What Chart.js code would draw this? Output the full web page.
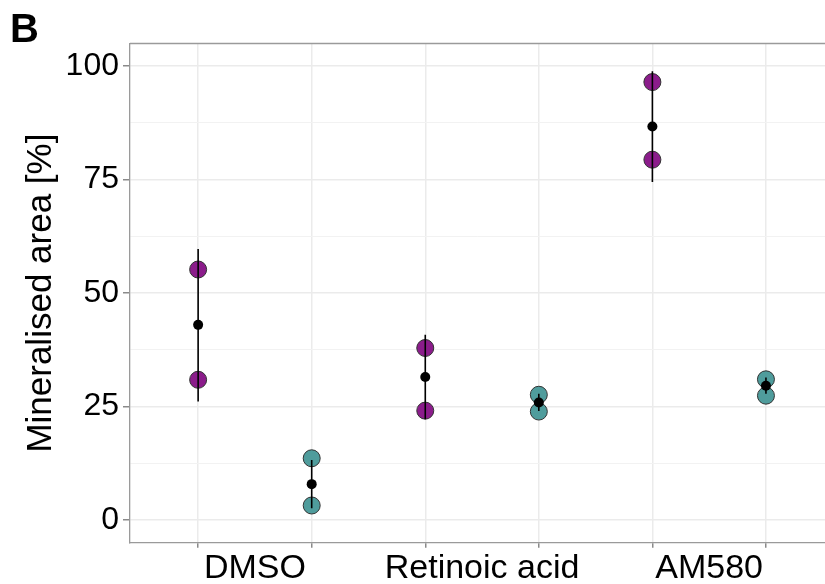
<!DOCTYPE html>
<html><head><meta charset="utf-8">
<script src="https://cdn.jsdelivr.net/npm/chart.js@4/dist/chart.umd.min.js"></script>
<style>html,body{margin:0;padding:0;background:#fff;overflow:hidden}canvas{display:block}</style>
</head><body><canvas id="c" width="825" height="584"></canvas>
<script>
// ---- data ----
const treatments = ['DMSO', 'Retinoic acid', 'AM580'];
const purplePos = [1, 3, 5];
const tealPos = [2, 4, 6];
const labelPos = [1.5, 3.5, 5.5];
const purpleRep1 = [55.2, 37.9, 96.5];
const purpleRep2 = [30.9, 24.1, 79.4];
const purpleMean = [43.0, 31.5, 86.7];
const purpleLow = [26.1, 22.2, 74.5];
const purpleHigh = [59.7, 40.8, 98.9];
const tealRep1 = [13.6, 27.6, 31.0];
const tealRep2 = [3.2, 23.9, 27.4];
const tealMean = [7.9, 25.9, 29.6];
const tealLow = [2.6, 24.0, 27.8];
const tealHigh = [13.2, 27.8, 31.4];
const yMajorTicks = [0, 25, 50, 75, 100];
const yMinorTicks = [12.5, 37.5, 62.5, 87.5];
const yTitle = 'Mineralised area [%]';
const panelLabel = 'B';

// ---- build ----
const FONT = "'Liberation Sans', Arial, sans-serif";
const PURPLE = '#8B1C8B';
const TEAL = '#4F9C9C';
function pts(pos, vals) { return pos.map((p, i) => ({ x: p, y: vals[i] })); }
function errPts(pos, lo, hi) {
  const out = [];
  pos.forEach((p, i) => { out.push({ x: p, y: lo[i] }, { x: p, y: hi[i] }, { x: p, y: null }); });
  return out;
}
const xTickVals = [];
purplePos.forEach((p, i) => { xTickVals.push(p, labelPos[i], tealPos[i]); });
const yTickVals = yMajorTicks.concat(yMinorTicks).sort((a, b) => a - b);
const isLabelPos = v => labelPos.indexOf(v) >= 0;
const isMajorY = v => yMajorTicks.indexOf(v) >= 0;

const extras = {
  id: 'extras',
  beforeDatasetsDraw(chart) {
    const { ctx, chartArea: a } = chart;
    ctx.save();
    ctx.strokeStyle = '#9a9a9a';
    ctx.lineWidth = 1.3;
    ctx.beginPath();
    ctx.moveTo(a.left, a.top); ctx.lineTo(a.right + 2, a.top);
    ctx.stroke();
    ctx.restore();
  },
  afterDraw(chart) {
    const ctx = chart.ctx;
    ctx.save();
    ctx.fillStyle = '#000';
    ctx.font = "bold 40px " + FONT;
    ctx.textBaseline = 'alphabetic';
    ctx.fillText(panelLabel, 10, 42);
    ctx.restore();
  }
};

const pointCommon = { showLine: false, borderColor: '#333', borderWidth: 1, pointRadius: 8.5, order: 3 };
new Chart(document.getElementById('c'), {
  type: 'scatter',
  data: {
    datasets: [
      Object.assign({ data: pts(purplePos, purpleRep1), backgroundColor: PURPLE }, pointCommon),
      Object.assign({ data: pts(purplePos, purpleRep2), backgroundColor: PURPLE }, pointCommon),
      Object.assign({ data: pts(tealPos, tealRep1), backgroundColor: TEAL }, pointCommon),
      Object.assign({ data: pts(tealPos, tealRep2), backgroundColor: TEAL }, pointCommon),
      { data: errPts(purplePos, purpleLow, purpleHigh), showLine: true, spanGaps: false, borderColor: '#000', borderWidth: 1.6, pointRadius: 0, order: 2 },
      { data: errPts(tealPos, tealLow, tealHigh), showLine: true, spanGaps: false, borderColor: '#000', borderWidth: 1.6, pointRadius: 0, order: 2 },
      { data: pts(purplePos, purpleMean), backgroundColor: '#000', borderColor: '#000', borderWidth: 0, pointRadius: 5, order: 1 },
      { data: pts(tealPos, tealMean), backgroundColor: '#000', borderColor: '#000', borderWidth: 0, pointRadius: 5, order: 1 }
    ]
  },
  options: {
    responsive: false,
    animation: false,
    events: [],
    layout: { autoPadding: false, padding: { top: 43.5, right: 0, left: 0, bottom: 0 } },
    plugins: { legend: { display: false }, tooltip: { enabled: false }, title: { display: false } },
    scales: {
      x: {
        type: 'linear', min: 0.4, max: 6.52,
        afterBuildTicks: s => { s.ticks = xTickVals.map(v => ({ value: v })); },
        afterFit: s => { s.height = 41.3; s.paddingLeft = 0; s.paddingRight = 0; },
        ticks: {
          autoSkip: false, maxRotation: 0, padding: 1, color: '#000',
          font: { family: FONT, size: 34 },
          callback: v => { const i = labelPos.indexOf(v); return i >= 0 ? treatments[i] : ''; }
        },
        grid: {
          color: c => (c.tick && isLabelPos(c.tick.value)) ? 'rgba(0,0,0,0)' : '#ebebeb',
          tickColor: c => (c.tick && isLabelPos(c.tick.value)) ? 'rgba(0,0,0,0)' : '#8a8a8a',
          lineWidth: 1.5, tickLength: 5, drawTicks: true
        },
        border: { display: true, color: '#9a9a9a', width: 1.3 }
      },
      y: {
        type: 'linear', min: -5, max: 105,
        afterBuildTicks: s => { s.ticks = yTickVals.map(v => ({ value: v })); },
        afterFit: s => { s.width = 130; s.paddingTop = 0; s.paddingBottom = 0; },
        ticks: {
          autoSkip: false, padding: 4, color: '#000',
          font: { family: FONT, size: 32 },
          callback: v => isMajorY(v) ? String(v) : ''
        },
        grid: {
          color: c => (c.tick && isMajorY(c.tick.value)) ? '#ebebeb' : '#f2f2f2',
          lineWidth: c => (c.tick && isMajorY(c.tick.value)) ? 1.5 : 1,
          tickColor: c => (c.tick && isMajorY(c.tick.value)) ? '#8a8a8a' : 'rgba(0,0,0,0)',
          tickLength: 7, drawTicks: true
        },
        border: { display: true, color: '#9a9a9a', width: 1.3 },
        title: { display: true, text: yTitle, color: '#000', font: { family: FONT, size: 35 }, padding: { top: 20, bottom: 0 } }
      }
    }
  },
  plugins: [extras]
});
</script></body></html>
